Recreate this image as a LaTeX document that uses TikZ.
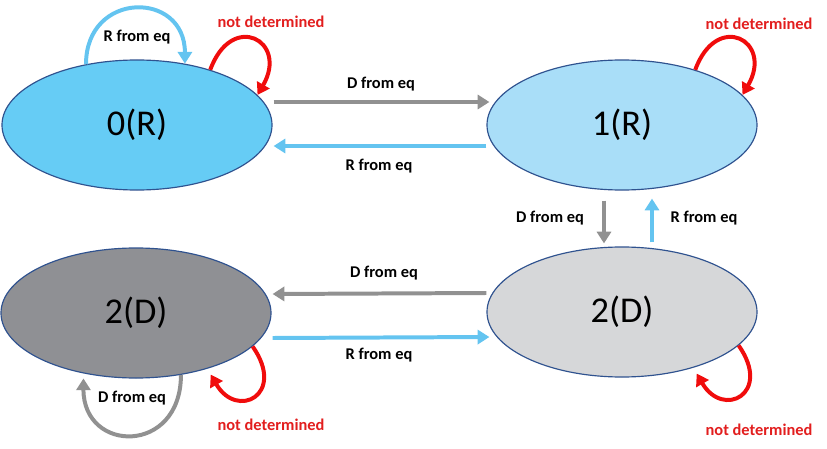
\documentclass[tikz,border=0pt]{standalone}
\usepackage{fontspec}
\setmainfont{Carlito}
\usetikzlibrary{shapes.geometric,arrows.meta}
\definecolor{stateR}{RGB}{102,204,245}
\definecolor{stateRl}{RGB}{169,222,248}
\definecolor{stateD}{RGB}{143,144,148}
\definecolor{stateDl}{RGB}{214,215,217}
\definecolor{rim}{RGB}{47,82,143}
\definecolor{arrgray}{RGB}{145,145,145}
\definecolor{arrblue}{RGB}{100,196,240}
\definecolor{arrred}{RGB}{240,12,12}
\definecolor{txtred}{RGB}{226,30,30}

\begin{document}
\begin{tikzpicture}[x=0.03cm,y=0.03cm,
  state/.style={ellipse,draw=rim,line width=1pt,minimum width=8.1cm,minimum height=3.9cm,inner sep=0pt,font=\fontsize{31}{37}\selectfont},
  arr/.style={line width=3.4pt,-{Triangle[length=10pt,width=12pt]}},
  lbl/.style={font=\fontsize{14}{16}\selectfont\bfseries},
  nd/.style={lbl,text=txtred}]
  \useasboundingbox (0,0) rectangle (827,-449);

  \node[state,fill=stateR] (e0) at (137,-125) {0(R)};
  \node[state,fill=stateRl] (e1) at (622,-125) {1(R)};
  \node[state,fill=stateD] (e2) at (136,-313) {2(D)};
  \node[state,fill=stateDl] (e3) at (622,-312) {2(D)};

  % between the states
  \draw[arr,arrgray] ([shift={(1,23)}]e0.east) -- ([shift={(3,23)}]e1.west);
  \draw[arr,arrblue] ([shift={(0,-21)}]e1.west) -- ([shift={(1,-21)}]e0.east);
  \draw[arr,arrgray] ([shift={(0,19)}]e3.west) -- ([shift={(1,19)}]e2.east);
  \draw[arr,arrblue] ([shift={(1,-25)}]e2.east) -- ([shift={(3,-25)}]e3.west);
  \draw[arr,arrgray] ([shift={(-18,-10)}]e1.south) -- ([shift={(-18,3)}]e3.north);
  \draw[arr,arrblue] ([shift={(30,4)}]e3.north) -- ([shift={(30,-8)}]e1.south);

  % loops
  \draw[arr,arrblue] (e0.130) to[out=90,in=90,looseness=1.9] (e0.52);
  \draw[arr,arrred] (e0.37) to[out=70,in=60,looseness=3] (e0.14);
  \draw[arr,arrred] (e1.37) to[out=70,in=60,looseness=3] (e1.14);
  \draw[arr,arrgray,shorten >=1.5mm] (e2.-54) to[out=-90,in=-90,looseness=2.1] (e2.-131);
  \draw[arr,arrred,shorten >=2mm] (e2.-16) to[out=-55,in=-60,looseness=3] (e2.-38);
  \draw[arr,arrred,shorten >=2mm] (e3.-16) to[out=-55,in=-60,looseness=3] (e3.-38);

  \node[lbl] (l0) at (137,-37) {R from eq};
  \node[nd] (n0) at (271,-22) {not determined};
  \node[lbl] (l1) at (381,-84) {D from eq};
  \node[lbl] (l2) at (379,-166) {R from eq};
  \node[nd] (n1) at (759,-24) {not determined};
  \node[lbl] (l3) at (550,-218) {D from eq};
  \node[lbl] (l4) at (704,-218) {R from eq};
  \node[lbl] (l5) at (384,-273) {D from eq};
  \node[lbl] (l6) at (379,-355) {R from eq};
  \node[lbl] (l7) at (132,-398) {D from eq};
  \node[nd] (n2) at (271,-425) {not determined};
  \node[nd] (n3) at (759,-430) {not determined};
\end{tikzpicture}
\end{document}
